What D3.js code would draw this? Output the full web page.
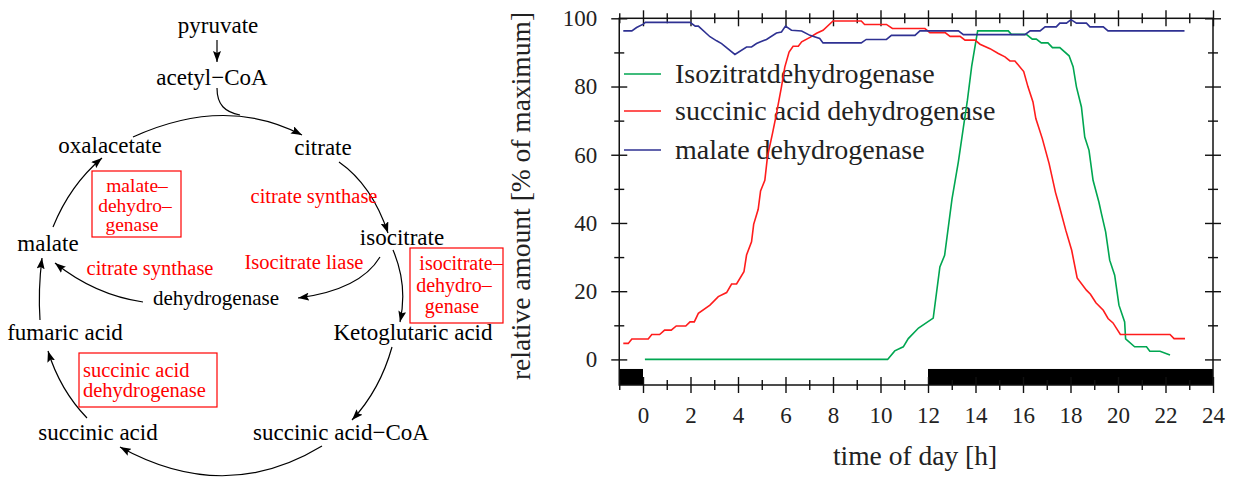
<!DOCTYPE html>
<html lang="en">
<head>
<script src="https://d3js.org/d3.v7.min.js"></script>
<style>
  body { margin: 0; background: #fff; }
  svg text { font-family: "Liberation Serif", "Times New Roman", serif; }
</style>
</head>
<body>
<script>
// ---------- chart data: [time of day (h), % of maximum] ----------
let idhData = [[0.08,0],[10.3,0],[10.6,2.5],[10.96,3.7],[11.17,6.1],[11.6,9.2],[12.22,12.1],[12.5,27.1],
  [12.7,30.5],[13.01,47],[13.28,58],[13.49,68],[13.66,76],[13.84,86],[14.09,96.3],[15.38,96.3],[15.51,95.3],
  [16.14,95.3],[16.39,93.9],[16.56,93.9],[16.77,92.8],[17.05,92.8],[17.24,91.4],[17.55,91.4],[17.94,89],
  [18.11,85.8],[18.25,79.9],[18.46,74],[18.6,65.2],[18.78,61.3],[18.95,52.5],[19.2,46],[19.3,42.8],
  [19.48,37.4],[19.65,29.1],[19.86,24.7],[20.04,15.9],[20.28,11],[20.32,6],[20.7,3.7],[21.2,3.7],
  [21.34,2.4],[21.77,2.4],[22.19,1.3]];

let sdhData = [[-0.83,4.7],[-0.62,4.7],[-0.47,6],[0.22,6],[0.37,7.3],[0.7,7.3],[0.91,8.6],[1.19,8.6],
  [1.4,9.8],[1.8,9.8],[1.98,11],[2.16,11],[2.33,13.5],[2.82,15.9],[3.17,18.4],[3.52,19.6],[3.73,22.1],
  [3.94,22.1],[4.25,25.7],[4.36,30.6],[4.57,34.5],[4.66,39.6],[4.85,44],[4.95,49.4],[5.13,52.5],[5.24,59.4],
  [5.45,66.2],[5.6,71.3],[5.83,79.9],[5.97,85.7],[6.15,90.1],[6.32,91.8],[6.54,91.8],[6.68,93.1],[7.03,94.4],
  [7.31,95.6],[7.58,96.5],[8.0,99.2],[9.19,99.2],[9.33,98.2],[10.25,98.2],[10.5,97],[11.87,97],[12.08,95.8],
  [12.72,95.8],[12.93,94.7],[13.35,94.7],[13.56,93.6],[13.98,93.6],[14.19,92.4],[14.61,91.1],[14.96,89.7],
  [15.24,88.7],[15.45,87.5],[15.66,87.5],[16.03,84.4],[16.21,79.9],[16.42,75.5],[16.54,70.6],[16.81,64.8],
  [17.1,57.4],[17.37,48.9],[17.5,45.7],[17.8,37.9],[18.05,32],[18.28,23.9],[18.67,20.3],[18.84,19.1],
  [19.07,16.6],[19.38,14.4],[19.58,12],[19.79,10.7],[20.1,7.3],[22.19,7.3],[22.36,6.1],[22.82,6.1]];

let mdhData = [[-0.83,96.3],[-0.47,96.3],[-0.27,97.3],[0.01,98.3],[0.1,98.8],[1.98,98.8],[2.2,97.7],
  [2.33,97.7],[2.82,94.6],[3.1,93.4],[3.31,92.6],[3.87,89.4],[4.36,91.6],[4.57,91.6],[4.78,92.6],[4.9,93],
  [5.2,93.8],[5.62,95.7],[5.83,96],[6.0,97.7],[6.25,96.5],[6.68,96.3],[7.03,95],[7.44,94.1],[7.58,92.8],
  [9.19,92.8],[9.4,93.8],[10.25,93.8],[10.46,95],[11.45,95],[11.66,96.3],[13.28,96.3],[13.49,95.2],
  [16.08,95.2],[16.3,96.3],[16.72,96.3],[16.93,97.5],[17.4,97.5],[17.55,98.6],[17.83,98.6],[18.02,99.6],
  [18.25,98.6],[18.67,98.6],[18.82,97.5],[19.38,97.5],[19.58,96.3],[22.8,96.3]];

let seriesNames = ["Isozitratdehydrogenase", "succinic acid dehydrogenase", "malate dehydrogenase"];
let seriesColors = ["#00a651", "#ff1c1c", "#2e3192"];
// dark periods of the day (black bars under the curves)
let darkStart = [-1, 12];
let darkEnd = [0, 24];
let xMajor = d3.range(0, 25, 2);
let xMinor = d3.range(-1, 24, 2);
let yMajor = d3.range(0, 101, 20);
let yMinor = d3.range(10, 100, 20);

var serif = '"Liberation Serif", "Times New Roman", serif';

var svg = d3.select("body").append("svg")
  .attr("width", 1235)
  .attr("height", 477);

// ---------- left: citric acid cycle sketch ----------
var defs = svg.append("defs");
defs.append("marker")
  .attr("id", "arr")
  .attr("viewBox", "0 0 11 8")
  .attr("refX", 11).attr("refY", 4)
  .attr("markerWidth", 11).attr("markerHeight", 8)
  .attr("markerUnits", "userSpaceOnUse")
  .attr("orient", "auto")
  .append("path").attr("d", "M0,0L11,4L0,8L2,4z").attr("fill", "#000");

var arrows = [
  "M217,40L217,62",
  "M133,137Q225,95 302,135",
  "M339,162Q372,185 388,233",
  "M393,250Q408,285 400,322",
  "M380,257Q360,290 298,298",
  "M143,302Q95,295 55,263",
  "M40,320Q38,290 42,258",
  "M53,227Q70,185 102,158",
  "M392,347Q380,390 352,420",
  "M322,446Q225,505 120,447",
  "M87,418Q60,390 48,351"
];
svg.append("g").selectAll("path").data(arrows).enter().append("path")
  .attr("d", d => d)
  .attr("fill", "none")
  .attr("stroke", "#000")
  .attr("stroke-width", 1.2)
  .attr("marker-end", "url(#arr)");
// acetyl-CoA feeding into the arc (no head)
svg.append("path").attr("d", "M217,88C217,105 225,112 240,115")
  .attr("fill", "none").attr("stroke", "#000").attr("stroke-width", 1.2);

var nodes = [
  ["pyruvate", 218, 33, 23], ["acetyl\u2212CoA", 212, 85, 23], ["oxalacetate", 110, 153, 23],
  ["citrate", 323, 155, 23], ["isocitrate", 402, 245, 23], ["malate", 48, 251, 23],
  ["dehydrogenase", 216, 305, 21], ["Ketoglutaric acid", 413, 340, 23], ["fumaric acid", 65, 340, 23],
  ["succinic acid", 98, 440, 23], ["succinic acid\u2212CoA", 341, 440, 23]
];
svg.append("g").selectAll("text").data(nodes).enter().append("text")
  .attr("x", d => d[1]).attr("y", d => d[2])
  .attr("text-anchor", "middle")
  .style("font-size", d => d[3] + "px")
  .attr("fill", "#000")
  .text(d => d[0]);

var enzymes = [
  ["citrate synthase", 314, 203, "middle", 20.5], ["citrate synthase", 150, 275, "middle", 20.5],
  ["Isocitrate liase", 304, 269, "middle", 20.5],
  ["malate\u2013", 137, 192, "middle", 19.5], ["dehydro\u2013", 135, 212, "middle", 19.5],
  ["genase", 132, 231, "middle", 19.5],
  ["isocitrate\u2013", 461, 270, "middle", 20], ["dehydro\u2013", 454, 292, "middle", 20],
  ["genase", 452, 313, "middle", 20],
  ["succinic acid", 83, 377, "start", 20.5], ["dehydrogenase", 83, 397, "start", 20.5]
];
svg.append("g").selectAll("text").data(enzymes).enter().append("text")
  .attr("x", d => d[1]).attr("y", d => d[2])
  .attr("text-anchor", d => d[3])
  .style("font-size", d => d[4] + "px")
  .attr("fill", "#ff0000")
  .text(d => d[0]);

var boxes = [[92, 171, 89, 66], [410, 248, 93, 75], [79, 353, 138, 54]];
svg.append("g").selectAll("rect").data(boxes).enter().append("rect")
  .attr("x", d => d[0]).attr("y", d => d[1])
  .attr("width", d => d[2]).attr("height", d => d[3])
  .attr("fill", "none").attr("stroke", "#ff0000").attr("stroke-width", 1.2);

// ---------- right: enzyme activity over the day ----------
var x = d3.scaleLinear().domain([-1, 24]).range([619.25, 1213]);
var y = d3.scaleLinear().domain([-7.5, 100]).range([385, 18.3]);

var chart = svg.append("g");

chart.selectAll(".dark").data(darkStart).enter().append("rect")
  .attr("class", "dark")
  .attr("x", d => x(d))
  .attr("width", (d, i) => x(darkEnd[i]) - x(d))
  .attr("y", y(-2.8))
  .attr("height", y(-7.5) - y(-2.8))
  .attr("fill", "#000");

function crossAxis(axisFn, scale, vals, len, tx, ty, labels) {
  var a = axisFn(scale).tickValues(vals).tickSize(len * 2).tickSizeOuter(0)
    .tickPadding(labels ? 14 : 0)
    .tickFormat(labels ? d3.format("d") : "");
  var g = chart.append("g").attr("transform", "translate(" + tx + "," + ty + ")").call(a);
  g.attr("font-family", null).attr("font-size", null);
  g.select(".domain").remove();
  g.selectAll("line").attr("stroke", "#111").attr("stroke-width", 1.4);
  g.selectAll("text")
    .style("font-family", serif)
    .style("font-size", "23px")
    .attr("fill", "#222");
  return g;
}
// bottom / top
crossAxis(d3.axisBottom, x, xMajor, 8, 0, 385 - 8, true);
crossAxis(d3.axisBottom, x, xMinor, 5, 0, 385 - 5, false);
crossAxis(d3.axisBottom, x, xMajor, 8, 0, 18.3 - 8, false);
crossAxis(d3.axisBottom, x, xMinor, 5, 0, 18.3 - 5, false);
// left / right
crossAxis(d3.axisLeft, y, yMajor, 8, 619.25 + 8, 0, true);
crossAxis(d3.axisLeft, y, yMinor, 5, 619.25 + 5, 0, false);
crossAxis(d3.axisLeft, y, yMajor, 8, 1213 + 8, 0, false);
crossAxis(d3.axisLeft, y, yMinor, 5, 1213 + 5, 0, false);

chart.append("rect")
  .attr("x", x(-1)).attr("y", y(100))
  .attr("width", x(24) - x(-1)).attr("height", y(-7.5) - y(100))
  .attr("fill", "none").attr("stroke", "#111").attr("stroke-width", 1.5);

// legend
var legend = chart.append("g").selectAll("g").data(seriesNames).enter().append("g")
  .attr("transform", (d, i) => "translate(624," + [74, 111, 150][i] + ")");
legend.append("line").attr("x1", 0).attr("x2", 37)
  .attr("stroke", (d, i) => seriesColors[i]).attr("stroke-width", 1.5);
legend.append("text").attr("x", 51).attr("y", 9)
  .style("font-size", "28px").attr("fill", "#222")
  .text(d => d);

var line = d3.line().x(d => x(d[0])).y(d => y(d[1]));
chart.selectAll(".series").data([idhData, sdhData, mdhData]).enter().append("path")
  .attr("class", "series")
  .attr("d", line)
  .attr("fill", "none")
  .attr("stroke", (d, i) => seriesColors[i])
  .attr("stroke-width", 1.6);

chart.append("text")
  .attr("x", 915).attr("y", 465)
  .attr("text-anchor", "middle")
  .style("font-size", "27.5px").attr("fill", "#222")
  .text("time of day [h]");

chart.append("text")
  .attr("transform", "translate(530,196) rotate(-90)")
  .attr("text-anchor", "middle")
  .style("font-size", "27.5px").attr("fill", "#222")
  .text("relative amount [% of maximum]");
</script>
</body>
</html>
